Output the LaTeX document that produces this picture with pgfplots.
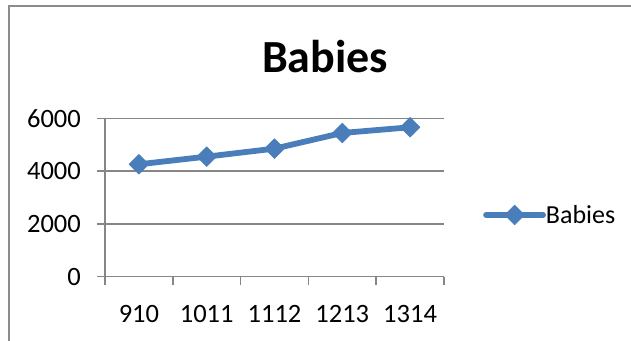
\documentclass[border=0pt]{standalone}
\usepackage{fontspec}
\setmainfont{Carlito}
\usepackage{pgfplots}
\pgfplotsset{compat=1.18}
\definecolor{babyblue}{RGB}{74,126,187}
\definecolor{axisgray}{RGB}{134,134,134}
\definecolor{framegray}{RGB}{140,140,140}
\begin{document}
\begin{tikzpicture}
\useasboundingbox (0bp,0bp) rectangle (631bp,-341bp);
\fill[white] (0bp,0bp) rectangle (631bp,-341bp);
\begin{scope}
  \clip (0bp,0bp) rectangle (631bp,-341bp);
  \draw[framegray, line width=2.25bp] (8.7bp,-6bp) rectangle (650bp,-360bp);
\end{scope}
\node[font=\fontsize{46bp}{52bp}\selectfont\bfseries, anchor=base, inner sep=0pt] at (325bp,-72bp) {Babies};
\begin{axis}[
  at={(105bp,-276.7bp)}, anchor=south west,
  scale only axis, width=339bp, height=158.4bp,
  xmin=0.5, xmax=5.5, ymin=0, ymax=6000,
  axis lines=left,
  axis line style={-, axisgray, line width=1.5bp},
  xtick={1,...,5}, xticklabels={910,1011,1112,1213,1314},
  minor xtick={0.5,1.5,...,5.5},
  ytick={0,2000,4000,6000},
  ymajorgrids,
  grid style={axisgray, line width=1.5bp},
  tick align=outside,
  major tick length=8bp, minor tick length=8bp,
  every major x tick/.append style={draw=none},
  tick style={axisgray, line width=1.5bp},
  minor tick style={axisgray, line width=1.5bp},
  /pgf/number format/assume math mode=true,
  /pgf/number format/1000 sep={},
  ticklabel style={font=\fontsize{26.5bp}{31bp}\selectfont, inner sep=0pt},
  yticklabel style={anchor=east, xshift=-16bp},
  xticklabel style={anchor=north, yshift=-20bp},
  legend style={at={(axis description cs:1.115,0.39)}, anchor=west,
    draw=none, fill=none, inner sep=0pt,
    font=\fontsize{26bp}{31bp}\selectfont,
    nodes={inner sep=0pt},
    /tikz/every even column/.append style={column sep=3bp}},
  legend image code/.code={
    \draw[mark repeat=2, mark phase=2, #1] plot coordinates {(0bp,0bp)(28.5bp,0bp)(57bp,0bp)};
  },
  clip=false,
]
\addplot[babyblue, line width=5.8bp, line cap=round, line join=round,
  mark=square*, mark size=7bp, mark options={rotate=45, line width=0.5bp, fill=babyblue}]
  coordinates {(1,4258)(2,4548)(3,4851)(4,5445)(5,5660)};
\addlegendentry{Babies}
\end{axis}
\end{tikzpicture}
\end{document}
